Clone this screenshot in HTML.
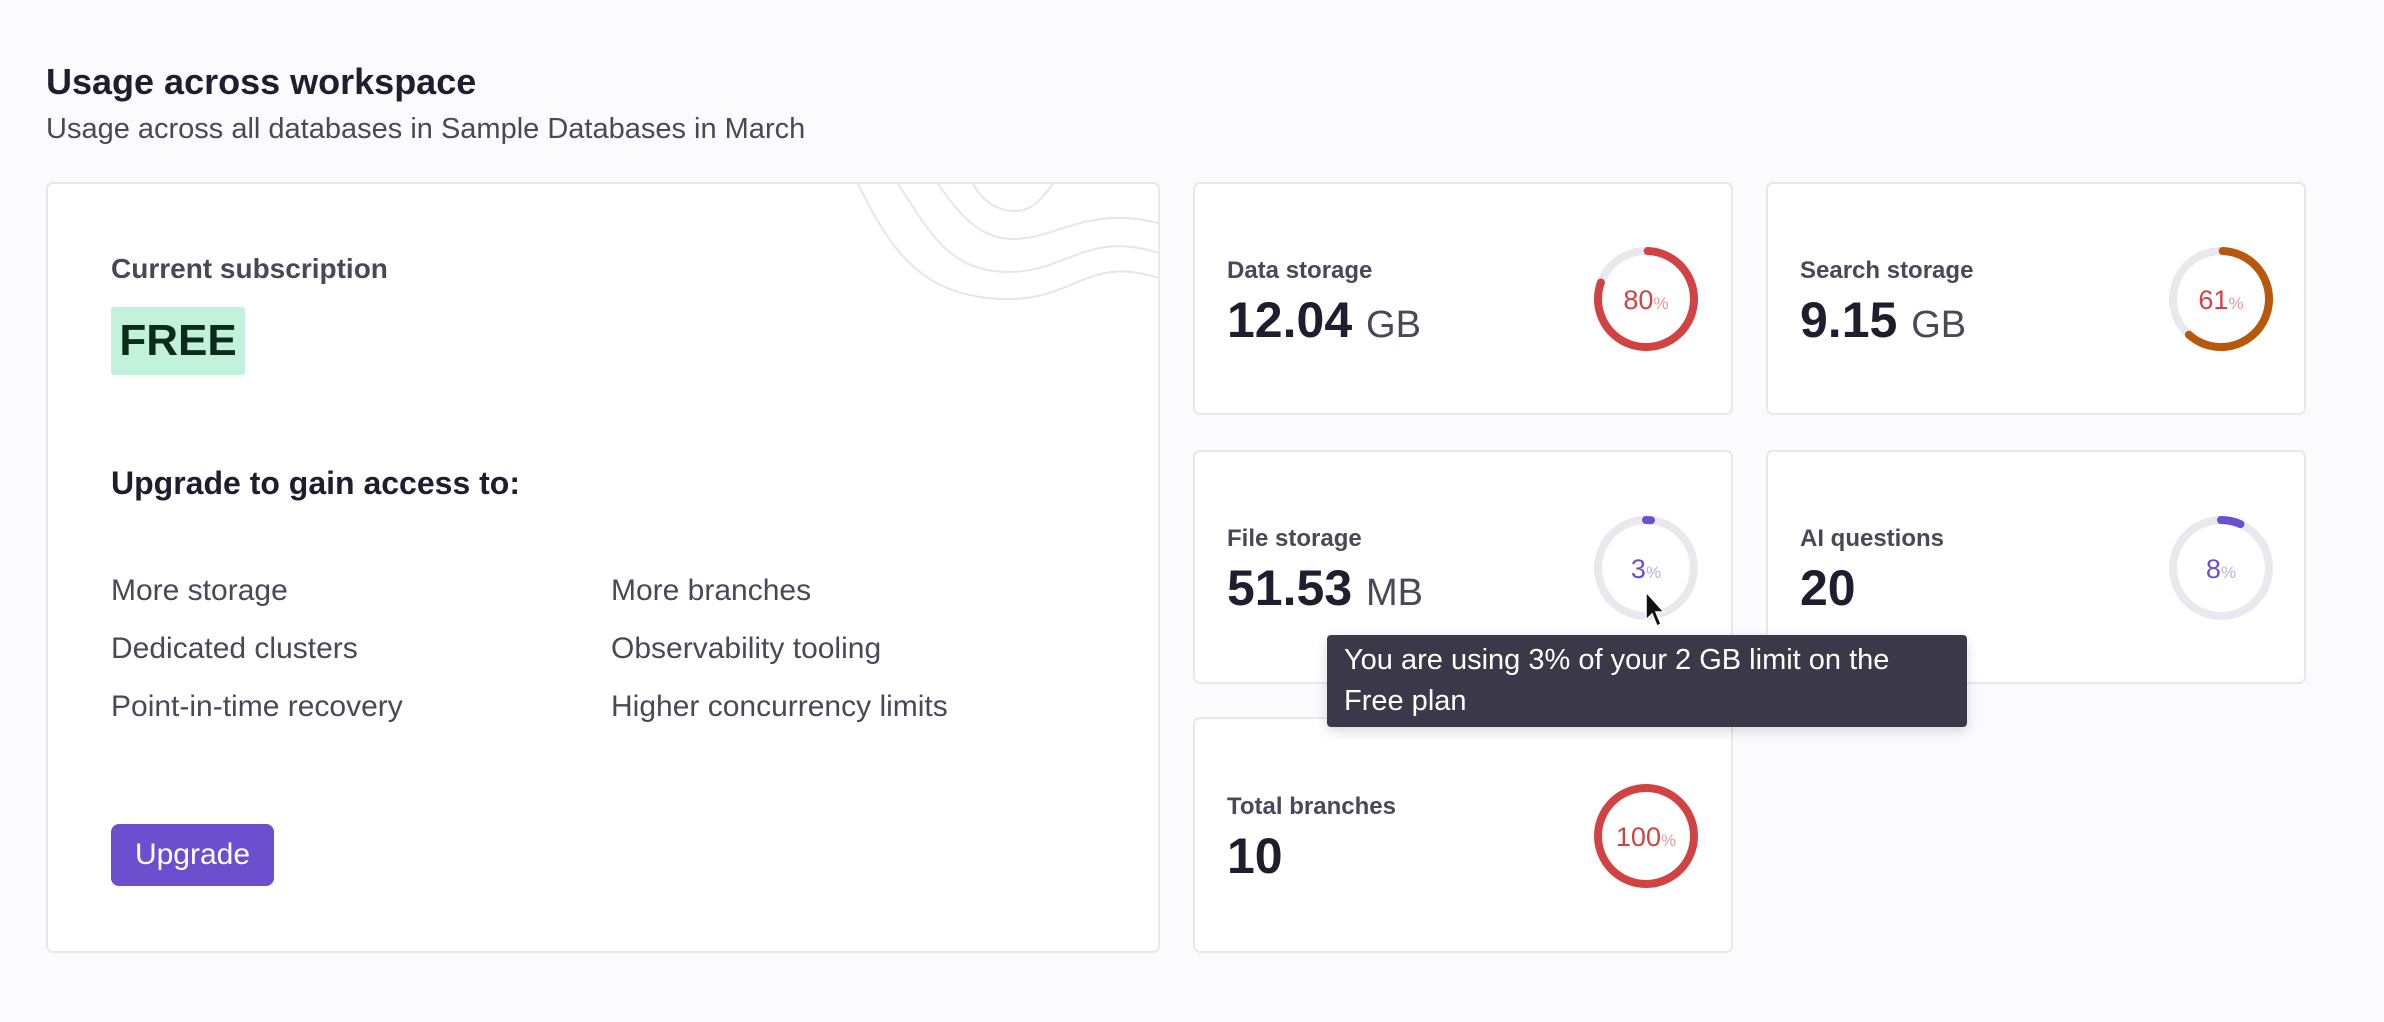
<!DOCTYPE html>
<html><head><meta charset="utf-8"><style>
*{margin:0;padding:0;box-sizing:border-box}
body{width:2384px;height:1022px;background:#fbfbfd;font-family:"Liberation Sans",sans-serif;position:relative;overflow:hidden;color:#1f1d2e}
.a{position:absolute;white-space:nowrap;line-height:1}
.card{position:absolute;background:#fff;border:2px solid #e8e8ec;border-radius:7px}
.lbl{font-size:24px;font-weight:bold;color:#4a4858}
.val{font-size:50px;font-weight:bold;color:#1f1d2e}
.val span{font-weight:normal;font-size:38px;color:#4a4858}
.li{font-size:30px;color:#4a4858}
</style></head><body>
<div class="a" style="left:46px;top:64px;font-size:36px;font-weight:bold">Usage across workspace</div>
<div class="a" style="left:46px;top:115px;font-size:29px;color:#4a4858">Usage across all databases in Sample Databases in March</div>

<div class="card" style="left:46px;top:182px;width:1114px;height:771px;overflow:hidden">
<svg class="a" style="left:760px;top:0" width="354" height="120" fill="none" stroke="#e6e6ea" stroke-width="2">
<path d="M50 0 C80 60 110 115 200 115 C270 115 280 70 354 95"/>
<path d="M90 0 C120 45 140 88 200 88 C260 88 280 45 354 70"/>
<path d="M130 0 C150 28 170 55 205 55 C250 55 280 20 354 40"/>
<path d="M165 0 C175 18 190 27 207 27 C225 27 235 13 245 0"/>
</svg>
<div class="a" style="left:63px;top:71px;font-size:28px;font-weight:bold;color:#4a4858">Current subscription</div>
<div class="a" style="left:63px;top:123px;width:134px;height:68px;background:#c1f2dc;border-radius:3px;font-size:44px;font-weight:bold;color:#0d2b1c;line-height:68px;text-align:center">FREE</div>
<div class="a" style="left:63px;top:283px;font-size:32px;font-weight:bold">Upgrade to gain access to:</div>
<div class="a li" style="left:63px;top:392px">More storage</div>
<div class="a li" style="left:63px;top:450px">Dedicated clusters</div>
<div class="a li" style="left:63px;top:508px">Point-in-time recovery</div>
<div class="a li" style="left:563px;top:392px">More branches</div>
<div class="a li" style="left:563px;top:450px">Observability tooling</div>
<div class="a li" style="left:563px;top:508px">Higher concurrency limits</div>
<div class="a" style="left:63px;top:640px;width:163px;height:62px;background:#6b4fcf;border-radius:8px;color:#fff;font-size:30px;line-height:62px;text-align:center">Upgrade</div>
</div>

<div class="card" style="left:1193px;top:182px;width:540px;height:233px"></div>
<div class="card" style="left:1766px;top:182px;width:540px;height:233px"></div>
<div class="card" style="left:1193px;top:450px;width:540px;height:234px"></div>
<div class="card" style="left:1766px;top:450px;width:540px;height:234px"></div>
<div class="card" style="left:1193px;top:717px;width:540px;height:236px"></div>

<div class="a lbl" style="left:1227px;top:259px">Data storage</div>
<div class="a val" style="left:1227px;top:295px">12.04 <span>GB</span></div>
<div class="a lbl" style="left:1800px;top:259px">Search storage</div>
<div class="a val" style="left:1800px;top:295px">9.15 <span>GB</span></div>
<div class="a lbl" style="left:1227px;top:527px">File storage</div>
<div class="a val" style="left:1227px;top:563px">51.53 <span>MB</span></div>
<div class="a lbl" style="left:1800px;top:527px">AI questions</div>
<div class="a val" style="left:1800px;top:563px">20</div>
<div class="a lbl" style="left:1227px;top:795px">Total branches</div>
<div class="a val" style="left:1227px;top:831px">10</div>

<svg class="a" style="left:0;top:0" width="2384" height="1022">
<g fill="none" stroke-width="8" stroke-linecap="round">
<circle cx="1646" cy="299" r="48" stroke="#e8e8ee"/>
<circle cx="1646" cy="299" r="48" stroke="#d14343" stroke-dasharray="241 302" transform="rotate(-88 1646 299)"/>
<circle cx="2221" cy="299" r="48" stroke="#e8e8ee"/>
<circle cx="2221" cy="299" r="48" stroke="#b8580c" stroke-dasharray="184 302" transform="rotate(-88 2221 299)"/>
<circle cx="1646" cy="568" r="48" stroke="#e8e8ee"/>
<circle cx="1646" cy="568" r="48" stroke="#6b4fcf" stroke-dasharray="5 302" transform="rotate(-90 1646 568)"/>
<circle cx="2221" cy="568" r="48" stroke="#e8e8ee"/>
<circle cx="2221" cy="568" r="48" stroke="#6b4fcf" stroke-dasharray="20 302" transform="rotate(-90 2221 568)"/>
<circle cx="1646" cy="836" r="48" stroke="#d14343"/>
</g>
<g font-family="Liberation Sans, sans-serif" text-anchor="middle">
<text x="1646" y="309" font-size="27" fill="#d14343">80<tspan font-size="17" fill="#e39a9a">%</tspan></text>
<text x="2221" y="309" font-size="27" fill="#d14343">61<tspan font-size="17" fill="#e39a9a">%</tspan></text>
<text x="1646" y="578" font-size="27" fill="#6b4fcf">3<tspan font-size="17" fill="#b7b0d6">%</tspan></text>
<text x="2221" y="578" font-size="27" fill="#6b4fcf">8<tspan font-size="17" fill="#b7b0d6">%</tspan></text>
<text x="1646" y="846" font-size="27" fill="#d14343">100<tspan font-size="17" fill="#e39a9a">%</tspan></text>
</g>
<path d="M1646 592 L1646 620 L1652 614 L1657 626 L1661 624 L1656 612 L1664 612 Z" fill="#111" stroke="#fff" stroke-width="1.5"/>
</svg>

<div class="a" style="left:1327px;top:635px;width:640px;height:92px;background:#3b3949;border-radius:4px;box-shadow:0 4px 12px rgba(0,0,0,.15);color:#fff;font-size:29px;line-height:41px;padding:5px 17px;white-space:normal">You are using 3% of your 2 GB limit on the<br>Free plan</div>
</body></html>
